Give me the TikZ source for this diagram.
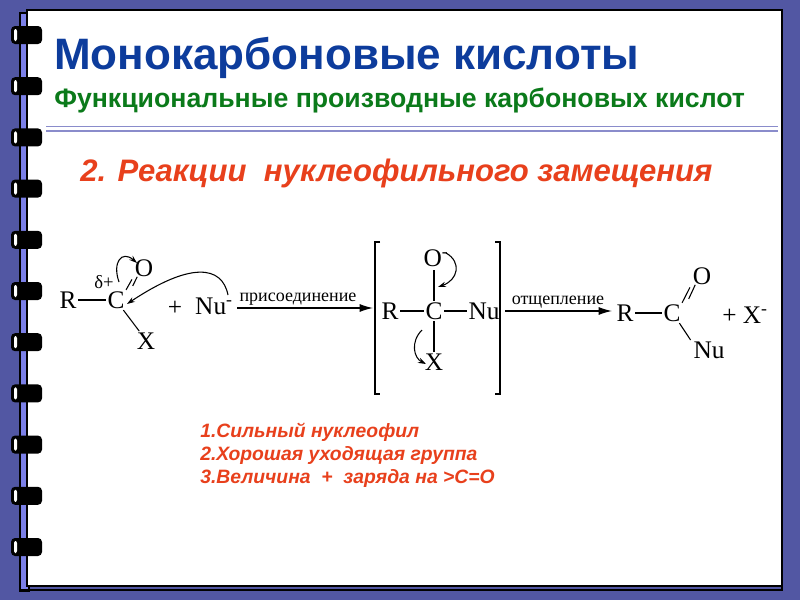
\documentclass[tikz,border=0pt]{standalone}
\usepackage{fontspec}
\setmainfont{Liberation Serif}
\newfontfamily\hsans{Liberation Sans}
\usetikzlibrary{arrows.meta}
\definecolor{bgblue}{HTML}{5257A3}
\definecolor{stripblue}{HTML}{7B80E8}
\definecolor{titleblue}{HTML}{0D3C9C}
\definecolor{subgreen}{HTML}{0B7A1A}
\definecolor{redor}{HTML}{E8401C}
\definecolor{lav}{HTML}{8A8CCB}
\tikzset{
  chem/.style={font=\fontsize{19}{21}\selectfont, inner sep=1pt},
  small/.style={font=\fontsize{13.5}{15}\selectfont, inner sep=1pt},
  bond/.style={line width=0.8pt},
  rxn/.style={line width=0.9pt,-{Latex[length=10pt,width=6pt]}},
  curv/.style={line width=0.8pt,-{Stealth[length=6pt,width=4pt]}},
  listt/.style={font=\hsans\bfseries\itshape\fontsize{14.5}{16}\selectfont, text=redor, anchor=west, inner sep=0pt}
}
\begin{document}
\begin{tikzpicture}[x=0.75pt,y=-0.75pt]
\useasboundingbox (0,0) rectangle (800,600);
\fill[bgblue] (0,0) rectangle (800,600);
% page
\fill[black] (19,12) rectangle (30,592);
\fill[stripblue] (21,14) rectangle (28,590);
\draw[fill=white,line width=1pt] (27,10) rectangle (782,586);
\draw[line width=0.8pt] (21,590) -- (782,590) -- (782,586);
% rings
\foreach \k in {0,...,10}{
  \pgfmathsetmacro\yy{35+51.2*\k}
  \fill[black,rounded corners=3pt] (11,\yy-9) rectangle (42,\yy+9);
  \fill[white,rounded corners=1.5pt] (14,\yy-6) rectangle (17,\yy+6);
}
% titles
\node[anchor=west,inner sep=0pt,text=titleblue,font=\hsans\bfseries\fontsize{33}{36}\selectfont] (title) at (54,58) {Монокарбоновые кислоты};
\node[anchor=west,inner sep=0pt,text=subgreen,font=\hsans\bfseries\fontsize{20}{23}\selectfont] (sub) at (54,100) {Функциональные производные карбоновых кислот};
\draw[lav,line width=1.3pt] (46,126.5) -- (778,126.5);
\draw[lav,line width=1.3pt] (46,131) -- (778,131);
\node[anchor=west,inner sep=0pt,text=redor,font=\hsans\bfseries\itshape\fontsize{23.3}{26}\selectfont] (head) at (80,173) {2. Реакции\ \ нуклеофильного замещения};
% reactant
\node[chem] (R1) at (68,300) {R};
\node[chem] (C1) at (116,300) {C};
\node[chem] (O1) at (144,268) {O};
\node[chem] (X1) at (146,341) {X};
\node[small,font=\fontsize{14}{15}\selectfont] (d1) at (104,282) {δ+};
\draw[bond] (R1.east) -- (C1.west);
\draw[bond] ([xshift=0pt]C1.north east) -- ([xshift=-1pt,yshift=-1pt]O1.south west);
\draw[bond] ([xshift=5pt,yshift=3pt]C1.north east) -- ([xshift=3pt,yshift=1pt]O1.south west);
\draw[bond] ([xshift=-2pt]C1.south east) -- ([xshift=3pt]X1.north west);
\node[chem] (plus1) at (175,308) {+};
\node[chem] (Nu1) at (214,306) {Nu\textsuperscript{-}};
\draw[curv] (119,282) .. controls (112,262) and (122,250) .. (137,263);
\draw[curv] (228,295) .. controls (222,265) and (190,262) .. (127,304);
% arrow 1
\draw[rxn] (237,308) -- (373,308);
\node[small,anchor=south] (lab1) at (298,307) {присоединение};
% intermediate
\draw[line width=0.9pt] (380,242) -- (375,242) -- (375,394) -- (380,394);
\draw[line width=0.9pt] (495,242) -- (500,242) -- (500,394) -- (495,394);
\node[chem] (R2) at (390,311) {R};
\node[chem] (C2) at (434,311) {C};
\node[chem] (O2) at (436,258) {O\textsuperscript{-}};
\node[chem] (Nu2) at (484,311) {Nu};
\node[chem] (X2) at (434,362) {X};
\draw[bond] (R2.east) -- (C2.west);
\draw[bond] (C2.east) -- (Nu2.west);
\draw[bond] (C2.north) -- (434,270);
\draw[bond] (C2.south) -- (X2.north);
\draw[curv] (446,253) .. controls (462,262) and (458,280) .. (438,287);
\draw[curv] (422,330) .. controls (410,342) and (414,358) .. (426,364);
% arrow 2
\draw[rxn] (505,311) -- (612,311);
\node[small,anchor=south] (lab2) at (558,310) {отщепление};
% product
\node[chem] (R3) at (625,313) {R};
\node[chem] (C3) at (672,313) {C};
\node[chem] (O3) at (702,276) {O};
\node[chem] (Nu3) at (709,350) {Nu};
\draw[bond] (R3.east) -- (C3.west);
\draw[bond] ([xshift=0pt]C3.north east) -- ([xshift=-1pt,yshift=-1pt]O3.south west);
\draw[bond] ([xshift=5pt,yshift=3pt]C3.north east) -- ([xshift=3pt,yshift=1pt]O3.south west);
\draw[bond] ([xshift=-2pt]C3.south east) -- ([xshift=-1pt]Nu3.north west);
\node[chem] (pX) at (745,315) {+ X\textsuperscript{-}};
% list
\node[listt] (l1) at (200,432) {1.Сильный нуклеофил};
\node[listt] (l2) at (200,455) {2.Хорошая уходящая группа};
\node[listt] (l3) at (200,478) {3.Величина\ \ +\ \ заряда на >C=O};
\end{tikzpicture}
\end{document}
